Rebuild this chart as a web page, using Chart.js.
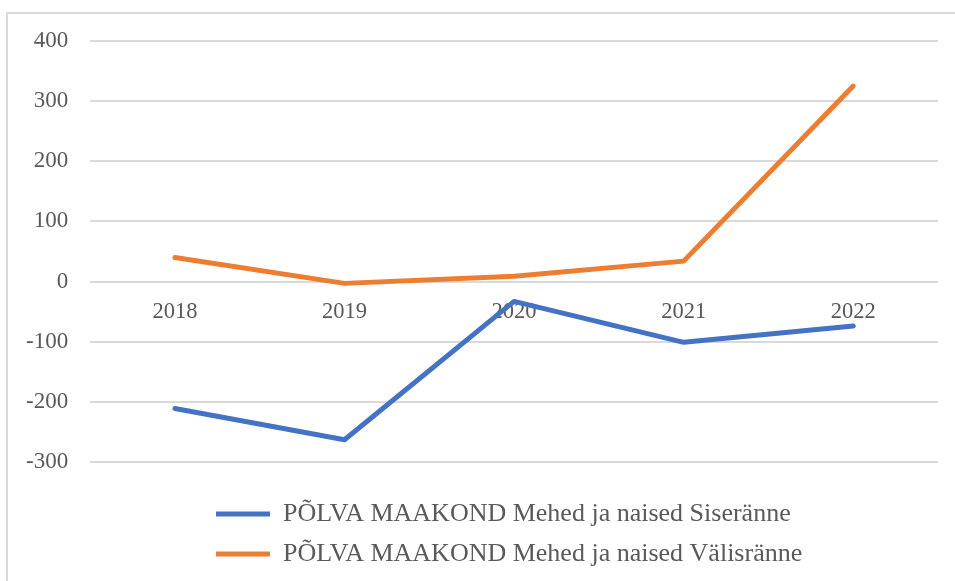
<!DOCTYPE html>
<html>
<head>
<meta charset="utf-8">
<script src="https://cdn.jsdelivr.net/npm/chart.js@4"></script>
<style>
  html, body { margin: 0; padding: 0; background: #fff; }
  #frame { position: absolute; left: 6px; top: 12px; width: 980px; height: 600px; border: 2px solid #d9d9d9; box-sizing: border-box; }
  #wrap { position: absolute; left: 0; top: 0; width: 955px; height: 581px; }
</style>
</head>
<body>
<div id="frame"></div>
<div id="wrap"><canvas id="chart"></canvas></div>
<script>
// Aastad ja rände saldod
const years = ["2018", "2019", "2020", "2021", "2022"];
const siseranne = [-211, -263, -33, -101, -74];
const valisranne = [40, -3, 9, 34, 325];
const seriesNames = [
  "PÕLVA MAAKOND Mehed ja naised Siseränne",
  "PÕLVA MAAKOND Mehed ja naised Välisränne"
];

const serif = "'Liberation Serif', 'Times New Roman', serif";

// legend rows start at the same x, like in the original
const legendShift = {
  id: "legendShift",
  afterLayout(chart) {
    const lg = chart.legend;
    const w = lg.right - lg.left;
    lg.left = 216 - 14;
    lg.right = lg.left + w;
  },
};

const ctx = document.getElementById("chart").getContext("2d");
new Chart(ctx, {
  type: "line",
  data: {
    labels: years,
    datasets: [
      {
        label: seriesNames[0],
        data: siseranne,
        borderColor: "#4472c4",
        backgroundColor: "#4472c4",
        borderWidth: 5,
        borderCapStyle: "round",
        borderJoinStyle: "round",
        pointRadius: 0,
        tension: 0,
      },
      {
        label: seriesNames[1],
        data: valisranne,
        borderColor: "#ed7d31",
        backgroundColor: "#ed7d31",
        borderWidth: 5,
        borderCapStyle: "round",
        borderJoinStyle: "round",
        pointRadius: 0,
        tension: 0,
      },
    ],
  },
  plugins: [legendShift],
  options: {
    responsive: true,
    maintainAspectRatio: false,
    animation: false,
    layout: { padding: { left: 4, right: 17, top: 41, bottom: 4 } },
    plugins: {
      tooltip: { enabled: false },
      legend: {
        position: "bottom",
        align: "start",
        title: { display: true, text: " ", font: { size: 10 }, padding: { top: 13, bottom: 0 } },
        labels: {
          usePointStyle: true,
          pointStyle: "line",
          pointStyleWidth: 54,
          color: "#595959",
          padding: 14,
          font: { family: serif, size: 26 },
        },
      },
    },
    scales: {
      x: {
        position: { y: 0 },
        offset: true,
        grid: { display: false, drawTicks: false },
        border: { display: false },
        ticks: {
          color: "#595959",
          padding: 17,
          font: { family: serif, size: 22.5 },
        },
      },
      y: {
        min: -300,
        max: 400,
        grid: { color: "#d9d9d9", lineWidth: 2, drawTicks: false },
        border: { display: false },
        ticks: {
          stepSize: 100,
          color: "#595959",
          padding: 22,
          font: { family: serif, size: 23 },
        },
      },
    },
  },
});
</script>
</body>
</html>
